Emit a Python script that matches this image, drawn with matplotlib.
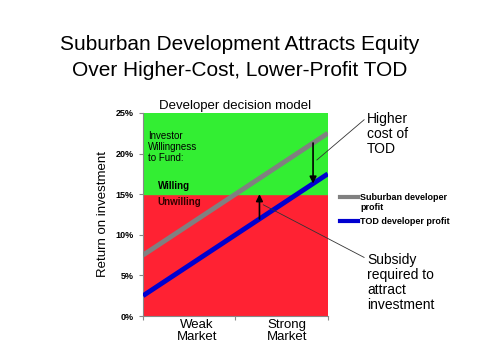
import matplotlib.pyplot as plt
import numpy as np

plt.rcParams['font.family'] = ['Liberation Sans', 'DejaVu Sans']

# data
market_x = [0, 2]
suburban_roi = [7.5, 22.5]
tod_roi = [2.5, 17.5]
threshold = 15
y_ticks = [0, 5, 10, 15, 20, 25]
categories = ['Weak\nMarket', 'Strong\nMarket']

fig = plt.figure(figsize=(4.8, 3.62), dpi=100)
ax = fig.add_axes([0.298, 0.127, 0.385, 0.561])

ax.axhspan(0, threshold, color='#ff2233', zorder=0)
ax.axhspan(threshold, 25, color='#33ee33', zorder=0)

ax.plot(market_x, suburban_roi, color='#808080', lw=3.5, solid_capstyle='butt', zorder=3)
ax.plot(market_x, tod_roi, color='#0000d0', lw=3.5, solid_capstyle='butt', zorder=3)

# arrows
xa = 1.84
ax.annotate('', xy=(xa, np.interp(xa, market_x, tod_roi)), xytext=(xa, np.interp(xa, market_x, suburban_roi)),
            arrowprops=dict(arrowstyle='-|>', color='black', lw=1.2, mutation_scale=10, shrinkA=0, shrinkB=0), zorder=4)
xb = 1.26
ax.annotate('', xy=(xb, threshold), xytext=(xb, np.interp(xb, market_x, tod_roi)),
            arrowprops=dict(arrowstyle='-|>', color='black', lw=1.2, mutation_scale=10, shrinkA=0, shrinkB=0), zorder=4)

ax.set_xlim(0, 2)
ax.set_ylim(0, 25)
ax.set_yticks(y_ticks)
ax.set_yticklabels([f'{t}%' for t in y_ticks], fontsize=6.5, fontweight='bold')
ax.set_xticks([0, 1, 2])
ax.set_xticklabels([])
ax.set_xticks([0.58, 1.56], minor=True)
ax.set_xticklabels(categories, minor=True, fontsize=9.5, linespacing=1.0)
ax.tick_params(axis='x', which='minor', length=0, pad=2)
ax.tick_params(axis='both', which='major', length=3, direction='out', color='#888888')
for s in ['top', 'right']:
    ax.spines[s].set_visible(False)
for s in ['left', 'bottom']:
    ax.spines[s].set_color('#888888')

ax.set_ylabel('Return on investment', fontsize=9.5, labelpad=5)
ax.set_title('Developer decision model', fontsize=9.5, pad=3)

ax.text(0.05, 20.8, 'Investor\nWillingness\nto Fund:', fontsize=7, va='center', linespacing=1.15)
ax.text(0.16, 16.0, 'Willing', fontsize=7, fontweight='bold', va='center')
ax.text(0.16, 14.0, 'Unwilling', fontsize=7, fontweight='bold', va='center', color='#330000')

# callouts
ax.annotate('Higher\ncost of\nTOD', xy=(1.88, 19.2), xycoords='data',
            xytext=(367 / 480, 1 - 112 / 362), textcoords='figure fraction',
            fontsize=10, va='top', ha='left', linespacing=1.1,
            arrowprops=dict(arrowstyle='-', color='#333333', lw=0.6, shrinkA=0, shrinkB=0,
                            relpos=(0, 0.88)), annotation_clip=False)
ax.annotate('Subsidy\nrequired to\nattract\ninvestment', xy=(1.30, 13.7), xycoords='data',
            xytext=(367 / 480, 1 - 253 / 362), textcoords='figure fraction',
            fontsize=10, va='top', ha='left', linespacing=1.1,
            arrowprops=dict(arrowstyle='-', color='#333333', lw=0.6, shrinkA=0, shrinkB=0,
                            relpos=(0, 0.9)), annotation_clip=False)

# legend
fig.add_artist(plt.Line2D([340 / 480, 358 / 480], [1 - 197 / 362] * 2, color='#808080', lw=3))
fig.text(360 / 480, 1 - 197 / 362, 'Suburban developer', fontsize=6.5, fontweight='bold', va='center')
fig.text(360 / 480, 1 - 207 / 362, 'profit', fontsize=6.5, fontweight='bold', va='center')
fig.add_artist(plt.Line2D([340 / 480, 358 / 480], [1 - 221 / 362] * 2, color='#0000d0', lw=3))
fig.text(360 / 480, 1 - 221 / 362, 'TOD developer profit', fontsize=6.5, fontweight='bold', va='center')

fig.text(0.5, 1 - 45 / 362, 'Suburban Development Attracts Equity', fontsize=15, ha='center', va='center')
fig.text(0.5, 1 - 70 / 362, 'Over Higher-Cost, Lower-Profit TOD', fontsize=15, ha='center', va='center')

fig.savefig('out.png', dpi=100)
